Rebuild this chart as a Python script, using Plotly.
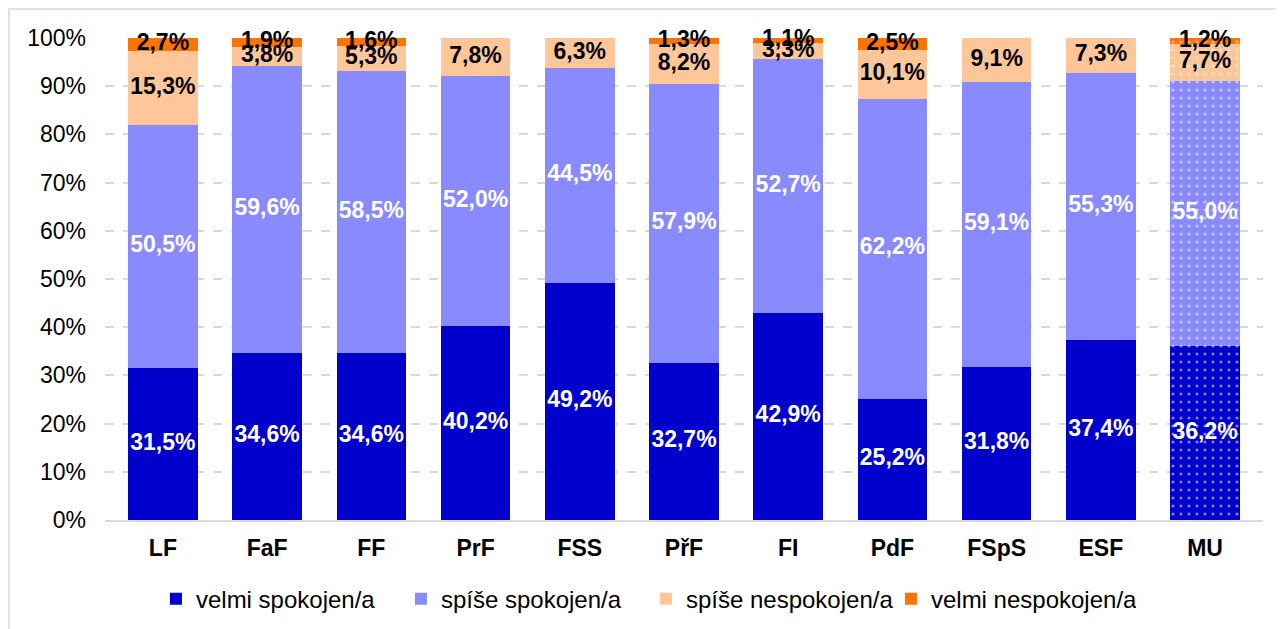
import plotly.graph_objects as go

categories = ["LF", "FaF", "FF", "PrF", "FSS", "PřF", "FI", "PdF", "FSpS", "ESF", "MU"]
series_names = ["velmi spokojen/a", "spíše spokojen/a", "spíše nespokojen/a", "velmi nespokojen/a"]
velmi_spokojen = [31.5, 34.6, 34.6, 40.2, 49.2, 32.7, 42.9, 25.2, 31.8, 37.4, 36.2]
spise_spokojen = [50.5, 59.6, 58.5, 52.0, 44.5, 57.9, 52.7, 62.2, 59.1, 55.3, 55.0]
spise_nespokojen = [15.3, 3.8, 5.3, 7.8, 6.3, 8.2, 3.3, 10.1, 9.1, 7.3, 7.7]
velmi_nespokojen = [2.7, 1.9, 1.6, 0.0, 0.0, 1.3, 1.1, 2.5, 0.0, 0.0, 1.2]
y_ticks = [0, 10, 20, 30, 40, 50, 60, 70, 80, 90, 100]

all_values = [velmi_spokojen, spise_spokojen, spise_nespokojen, velmi_nespokojen]
colors = ["#0000CC", "#8A8AFF", "#FFC799", "#FF7300"]
text_colors = ["white", "white", "black", "black"]
FONT = "Liberation Sans, Arial, sans-serif"

def fmt(v):
    return "" if v == 0 else (f"{v:.1f}".replace(".", ",") + "%")

totals = [sum(col) for col in zip(*all_values)]

fig = go.Figure()
pattern_shapes = ["" for _ in categories[:-1]] + ["."]
for name, vals, col in zip(series_names, all_values, colors):
    fig.add_trace(go.Bar(
        x=categories, y=vals, name=name,
        marker=dict(color=col, line=dict(width=0),
                    pattern=dict(shape=pattern_shapes, fillmode="overlay",
                                 fgcolor="white", size=8, solidity=0.12)),
        hoverinfo="skip",
    ))

# data labels centred in each (normalised) segment
base = [0.0] * len(categories)
for vals, tcol in zip(all_values, text_colors):
    mids = []
    for i, v in enumerate(vals):
        share = v / totals[i] * 100
        mids.append(base[i] + share / 2)
        base[i] += share
    fig.add_trace(go.Scatter(
        x=categories, y=mids, mode="text", text=[fmt(v) for v in vals],
        textposition="middle center", cliponaxis=False, showlegend=False,
        textfont=dict(family=FONT, size=23, color=tcol, weight="bold"),
        hoverinfo="skip",
    ))

fig.update_layout(
    template="none",
    barmode="stack", barnorm="percent", bargap=0.333,
    width=1276, height=621,
    margin=dict(l=97, r=21, t=30, b=109, autoexpand=False),
    paper_bgcolor="white", plot_bgcolor="white",
    font=dict(family=FONT, size=23, color="black"),
    showlegend=True,
    legend=dict(orientation="h", x=0.044, xanchor="left", y=-0.164, yanchor="middle",
                font=dict(family=FONT, size=24, color="black"), itemwidth=30,
                entrywidth=200, entrywidthmode="pixels",
                traceorder="normal"),
    yaxis=dict(range=[0, 100], tickvals=y_ticks, ticktext=[f"{t}%" for t in y_ticks],
               automargin=False,
               showgrid=True, gridcolor="#D9D9D9", gridwidth=1.5, griddash="dash",
               zeroline=False, showline=False, ticks="", ticklabelstandoff=18,
               tickfont=dict(family=FONT, size=23, color="black")),
    xaxis=dict(showline=True, linecolor="#D9D9D9", linewidth=2, ticks="",
               automargin=False, showgrid=False, zeroline=False,
               tickfont=dict(family=FONT, size=23, color="black", weight="bold"),
               ticklabelstandoff=6),
    shapes=[dict(type="rect", xref="paper", yref="paper",
                 x0=-0.0829, x1=1.1, y0=-0.5, y1=1.06,
                 line=dict(color="#D9D9D9", width=1.5), fillcolor="rgba(0,0,0,0)",
                 layer="below")],
)

fig.write_html("out.html")
